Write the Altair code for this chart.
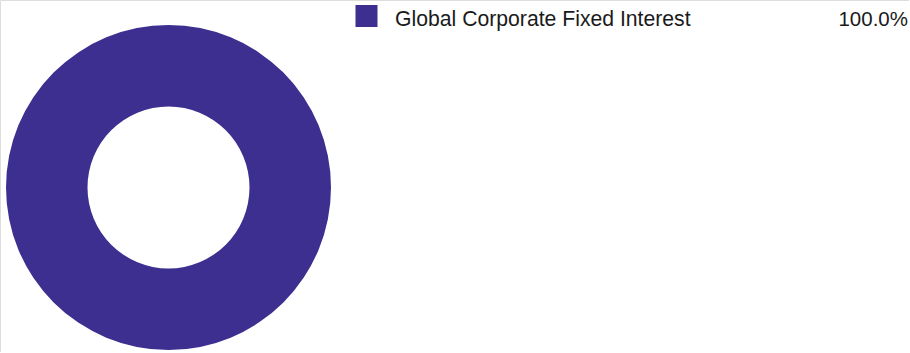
import altair as alt
import pandas as pd

categories = ["Global Corporate Fixed Interest"]
values = [100.0]
colors = ["#3D2F8F"]

df = pd.DataFrame({
    "category": categories,
    "value": values,
    "label": [f"{v:.1f}%" for v in values],
    "order": list(range(len(categories))),
})

color_scale = alt.Scale(domain=categories, range=colors)

base = alt.Chart(df)

donut = base.mark_arc(radius=162.5, radius2=81).encode(
    theta=alt.Theta("value:Q", stack=True),
    color=alt.Color("category:N", scale=color_scale, legend=None),
    order=alt.Order("order:Q"),
    x=alt.value(168.5),
    y=alt.value(187.5),
)

swatch = base.mark_square(size=484, opacity=1).encode(
    x=alt.value(366.5),
    y=alt.value(16),
    color=alt.Color("category:N", scale=color_scale, legend=None),
)

name = base.mark_text(align="left", baseline="alphabetic", fontSize=21.2,
                      font="Liberation Sans", color="#1a1a1a").encode(
    x=alt.value(395),
    y=alt.value(25.5),
    text="category:N",
)

pct = base.mark_text(align="right", baseline="alphabetic", fontSize=20.5,
                     font="Liberation Sans", color="#1a1a1a").encode(
    x=alt.value(908),
    y=alt.value(25.5),
    text="label:N",
)

chart = alt.layer(donut, swatch, name, pct).properties(
    width=909, height=352,
    autosize=alt.AutoSizeParams(type="none"),
    padding=0,
).configure_view(stroke="transparent", strokeWidth=0).configure(background="white")

chart.save("out.html", embed_options={"renderer": "svg", "actions": False})
